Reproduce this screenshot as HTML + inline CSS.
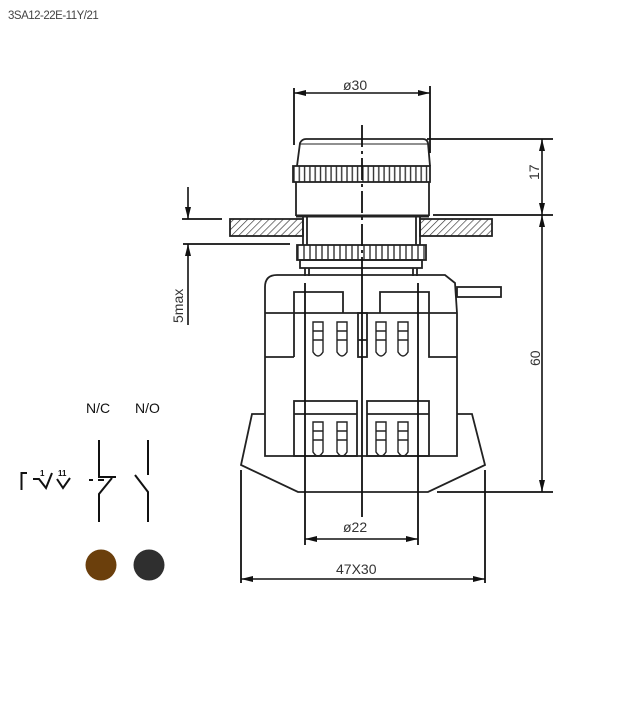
<!DOCTYPE html>
<html><head><meta charset="utf-8"><style>
html,body{margin:0;padding:0;background:#fff;}
svg{display:block;}
text{font-family:"Liberation Sans",sans-serif;}
</style></head><body>
<svg width="622" height="702" viewBox="0 0 622 702" xmlns="http://www.w3.org/2000/svg">
<defs>
<pattern id="hatch" width="5" height="5" patternUnits="userSpaceOnUse" patternTransform="rotate(45)">
<line x1="0" y1="0" x2="0" y2="5" stroke="#333" stroke-width="1.3"/>
</pattern>
<pattern id="knurl" x="293" width="5.3" height="20" patternUnits="userSpaceOnUse">
<line x1="1" y1="0" x2="1" y2="20" stroke="#333" stroke-width="1.4"/>
</pattern>
<pattern id="knurl2" x="297" width="6" height="20" patternUnits="userSpaceOnUse">
<line x1="1" y1="0" x2="1" y2="20" stroke="#333" stroke-width="1.4"/>
</pattern>
<marker id="ar" viewBox="0 0 12 6" refX="12" refY="3" markerWidth="12" markerHeight="6" markerUnits="userSpaceOnUse" orient="auto-start-reverse">
<path d="M0,0 L12,3 L0,6 z" fill="#111"/>
</marker>
</defs>

<text x="8" y="19" font-size="11.5" fill="#444" letter-spacing="-0.5">3SA12-22E-11Y/21</text>

<g stroke="#222" stroke-width="1.8" fill="none">
<path d="M297,166 L300,143 Q302,139 306,139 L423,139 Q427,139 428,143 L430,166"/>
<line x1="300" y1="144" x2="428" y2="144" stroke-width="1"/>
<rect x="293" y="166" width="137" height="16" fill="url(#knurl)"/>
<path d="M296,182 L296,216 M429,182 L429,216"/>
<line x1="296" y1="216" x2="429" y2="216" stroke-width="3"/>
<rect x="230" y="219" width="73" height="17" fill="url(#hatch)"/>
<rect x="420" y="219" width="72" height="17" fill="url(#hatch)"/>
<path d="M303,217 V245 M307,217 V245 M416,217 V245 M420,217 V245"/>
<rect x="297" y="245" width="129" height="15" fill="url(#knurl2)"/>
<rect x="300" y="260" width="122" height="8"/>
<path d="M305,268 V276 M309,268 V276 M413,268 V276 M417,268 V276"/>
<path d="M265,313 L265,287 Q265,275 277,275 L445,275 L455,283 L457,313"/>
<line x1="265" y1="313" x2="457" y2="313"/>
<path d="M265,313 V456 H457 V313"/>
<path d="M294,357 V292 H343 V313"/>
<path d="M380,313 V292 H429 V357 H457"/>
<path d="M265,357 H294"/>
<rect x="457" y="287" width="44" height="10"/>
<rect x="358" y="313" width="9" height="44"/>
<line x1="358" y1="340" x2="367" y2="340"/>
<g stroke-width="1.4">
<path d="M313,322 H323 V352 Q318,360 313,352 Z M313,331 H323 M313,340 H323"/>
<path d="M337,322 H347 V352 Q342,360 337,352 Z M337,331 H347 M337,340 H347"/>
<path d="M376,322 H386 V352 Q381,360 376,352 Z M376,331 H386 M376,340 H386"/>
<path d="M398,322 H408 V352 Q403,360 398,352 Z M398,331 H408 M398,340 H408"/>
<path d="M313,422 H323 V452 Q318,460 313,452 Z M313,431 H323 M313,440 H323"/>
<path d="M337,422 H347 V452 Q342,460 337,452 Z M337,431 H347 M337,440 H347"/>
<path d="M376,422 H386 V452 Q381,460 376,452 Z M376,431 H386 M376,440 H386"/>
<path d="M398,422 H408 V452 Q403,460 398,452 Z M398,431 H408 M398,440 H408"/>
</g>
<rect x="294" y="401" width="63" height="55"/>
<line x1="294" y1="414" x2="357" y2="414"/>
<rect x="367" y="401" width="62" height="55"/>
<line x1="367" y1="414" x2="429" y2="414"/>
<path d="M265,414 H252 L241,465 L298,492 H428 L485,465 L472,414 H457"/>
</g>

<g stroke="#111" stroke-width="1.8">
<line x1="362" y1="125" x2="362" y2="276" stroke-dasharray="22,4,3,4"/>
<line x1="362" y1="276" x2="362" y2="517"/>
<line x1="305" y1="283" x2="305" y2="545"/>
<line x1="418" y1="283" x2="418" y2="545"/>
<line x1="241" y1="470" x2="241" y2="583"/>
<line x1="485" y1="470" x2="485" y2="583"/>
<line x1="294" y1="88" x2="294" y2="145"/>
<line x1="430" y1="86" x2="430" y2="153"/>
<line x1="427" y1="139" x2="553" y2="139"/>
<line x1="433" y1="215" x2="553" y2="215"/>
<line x1="437" y1="492" x2="553" y2="492"/>
<line x1="182" y1="219" x2="222" y2="219"/>
<line x1="183" y1="244" x2="290" y2="244"/>
</g>
<g stroke="#111" stroke-width="1.6" fill="none">
<line x1="294" y1="93" x2="430" y2="93" marker-start="url(#ar)" marker-end="url(#ar)"/>
<line x1="542" y1="139" x2="542" y2="215" marker-start="url(#ar)" marker-end="url(#ar)"/>
<line x1="542" y1="215" x2="542" y2="492" marker-start="url(#ar)" marker-end="url(#ar)"/>
<line x1="305" y1="539" x2="418" y2="539" marker-start="url(#ar)" marker-end="url(#ar)"/>
<line x1="241" y1="579" x2="485" y2="579" marker-start="url(#ar)" marker-end="url(#ar)"/>
<line x1="188" y1="187" x2="188" y2="219" marker-end="url(#ar)"/>
<line x1="188" y1="325" x2="188" y2="244" marker-end="url(#ar)"/>
</g>
<g fill="#333" font-size="14">
<text x="343" y="90">ø30</text>
<text x="343" y="532">ø22</text>
<text x="336" y="574">47X30</text>
<text transform="translate(539,180) rotate(-90)">17</text>
<text transform="translate(540,366) rotate(-90)">60</text>
<text transform="translate(183,323) rotate(-90)">5max</text>
</g>

<g fill="#111" font-size="14">
<text x="86" y="413">N/C</text>
<text x="135" y="413">N/O</text>
<text x="40" y="476" font-size="8" font-weight="bold">1</text>
<text x="58" y="476" font-size="8" font-weight="bold">11</text>
</g>
<g stroke="#111" stroke-width="2" fill="none">
<path d="M27,473 H21.5 V490"/>
<path d="M33,479 H39 L46,488 L52,473"/>
<path d="M57,479 L63,488 L70,478"/>
<path d="M89,480 H93 M98,480 H104"/>
<path d="M99,440 V477 H116"/>
<path d="M112,478 L99,494 V522"/>
<path d="M148,440 V475"/>
<path d="M135,475 L148,492 V522"/>
</g>
<circle cx="101" cy="565" r="15.5" fill="#6b3f0c"/>
<circle cx="149" cy="565" r="15.5" fill="#2f2f2f"/>
</svg>
</body></html>
